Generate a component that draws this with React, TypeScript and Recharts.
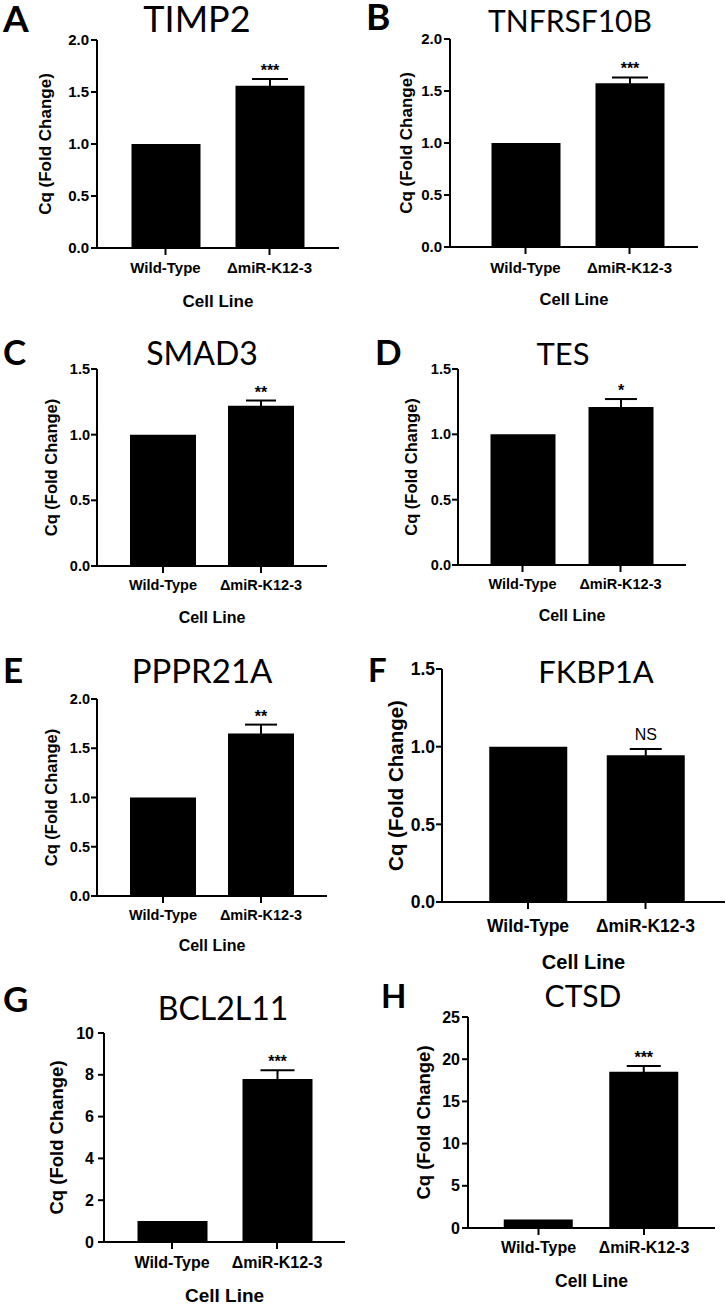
import { BarChart, Bar, XAxis, YAxis, ErrorBar, LabelList } from "recharts";

const cellLines = ["Wild-Type", "\u0394miR-K12-3"];
const panelLetters = ["A", "B", "C", "D", "E", "F", "G", "H"];
const genes = ["TIMP2", "TNFRSF10B", "SMAD3", "TES", "PPPR21A", "FKBP1A", "BCL2L11", "CTSD"];
const foldChange = [
  [1, 1.56],
  [1, 1.575],
  [1, 1.22],
  [1, 1.21],
  [1, 1.65],
  [1, 0.945],
  [1, 7.8],
  [1, 18.5],
];
const sem = [
  [0, 0.065],
  [0, 0.055],
  [0, 0.04],
  [0, 0.06],
  [0, 0.09],
  [0, 0.04],
  [0, 0.42],
  [0, 0.7],
];
const significance = ["***", "***", "**", "*", "**", "NS", "***", "***"];
const yTicks = [
  [0, 0.5, 1, 1.5, 2],
  [0, 0.5, 1, 1.5, 2],
  [0, 0.5, 1, 1.5],
  [0, 0.5, 1, 1.5],
  [0, 0.5, 1, 1.5, 2],
  [0, 0.5, 1, 1.5],
  [0, 2, 4, 6, 8, 10],
  [0, 5, 10, 15, 20, 25],
];
const yDecimals = [1, 1, 1, 1, 1, 1, 0, 0];
const yLabel = "Cq (Fold Change)";
const xLabel = "Cell Line";

const ARIAL = "'Liberation Sans', Arial, sans-serif";
const CALIBRI = "Lato, 'Open Sans', sans-serif";

const layouts = [
  { x0: 0, axisX: 97, right: 339, top: 40, bottom: 248, padL: 16.5, padR: 17.5, barW: 69, cap: 18, tickFs: 15, yGap: 2, xGap: 7, yLabFs: 17, yLabX: 47, xTitFs: 17, xTitY: 307, titFs: 36, titX: 197, titY: 32, letFs: 37, letX: 3, letY: 32 },
  { x0: 363, axisX: 450, right: 698, top: 39, bottom: 247, padL: 23.5, padR: 16.5, barW: 69, cap: 18, tickFs: 15, yGap: 2, xGap: 8, yLabFs: 17, yLabX: 408, xTitFs: 16.5, xTitY: 305, titFs: 30, titX: 570, titY: 32, letFs: 37, letX: 366, letY: 30 },
  { x0: 0, axisX: 97, right: 327, top: 369, bottom: 566, padL: 17, padR: 17, barW: 66, cap: 15, tickFs: 14.5, yGap: 1, xGap: 7, yLabFs: 16.5, yLabX: 53, xTitFs: 16, xTitY: 623, titFs: 32, titX: 202, titY: 365, letFs: 35, letX: 3, letY: 365 },
  { x0: 363, axisX: 458, right: 686, top: 369, bottom: 565, padL: 15.5, padR: 16.5, barW: 65, cap: 16, tickFs: 14.5, yGap: 1, xGap: 7, yLabFs: 16.5, yLabX: 413, xTitFs: 16, xTitY: 621, titFs: 31, titX: 563, titY: 365, letFs: 35, letX: 375, letY: 365 },
  { x0: 0, axisX: 97, right: 327, top: 699, bottom: 896, padL: 17, padR: 17, barW: 66, cap: 16, tickFs: 14.5, yGap: 1, xGap: 7, yLabFs: 16.5, yLabX: 53, xTitFs: 16, xTitY: 951, titFs: 33, titX: 202, titY: 683, letFs: 35, letX: 3, letY: 683 },
  { x0: 363, axisX: 442, right: 725, top: 669, bottom: 902, padL: 27.25, padR: 20.75, barW: 78, cap: 16, tickFs: 17.5, yGap: 1, xGap: 11, yLabFs: 20.5, yLabX: 398, xTitFs: 20, xTitY: 969, titFs: 31, titX: 596, titY: 683, letFs: 33, letX: 368, letY: 682 },
  { x0: 0, axisX: 104, right: 345, top: 1033, bottom: 1242, padL: 15.5, padR: 15.5, barW: 70, cap: 17, tickFs: 16, yGap: 4, xGap: 8, yLabFs: 18.5, yLabX: 58, xTitFs: 19, xTitY: 1302, titFs: 32, titX: 223, titY: 1020, letFs: 35, letX: 3, letY: 1012 },
  { x0: 363, axisX: 468, right: 715, top: 1017, bottom: 1228, padL: 17.75, padR: 18.25, barW: 69, cap: 17, tickFs: 16, yGap: 2, xGap: 7, yLabFs: 18.5, yLabX: 425, xTitFs: 17.5, xTitY: 1287, titFs: 30, titX: 583, titY: 1007, letFs: 33, letX: 381, letY: 1008 },
];

const starLabel = (p: number) => (props: any) => {
  const { index, value } = props;
  if (index !== 1) return null;
  const vb = props.viewBox || {};
  const x = Number(props.x ?? vb.x);
  const y = Number(props.y ?? vb.y);
  const width = Number(props.width ?? vb.width);
  const height = Number(props.height ?? vb.height);
  const v = Number(value);
  const errPx = v ? (sem[p][index] * Math.abs(height)) / v : 0;
  const ns = significance[p] === "NS";
  return (
    <text
      x={x + width / 2}
      y={Math.min(y, y + height) - errPx - (ns ? 9 : 3)}
      textAnchor="middle"
      fontSize={16}
      fontWeight={ns ? 400 : 700}
      fontFamily={ARIAL}
      fill="#000"
    >
      {significance[p]}
    </text>
  );
};

function Panel({ p }: { p: number }) {
  const L = layouts[p];
  const chartTop = L.top - 10;
  const width = 363;
  const xAxisH = 44;
  const height = L.bottom - chartTop + xAxisH;
  const rows = cellLines.map((line, i) => ({
    line,
    value: foldChange[p][i],
    err: sem[p][i],
  }));
  const ticks = yTicks[p];
  const axisStyle = { stroke: "#000", strokeWidth: 2 };
  return (
    <div style={{ position: "absolute", left: L.x0, top: chartTop }}>
      <BarChart
        width={width}
        height={height}
        data={rows}
        margin={{ top: 10, right: width - (L.right - L.x0), bottom: 0, left: 0 }}
      >
        <XAxis
          dataKey="line"
          height={xAxisH}
          interval={0}
          padding={{ left: L.padL, right: L.padR }}
          tickSize={7}
          tickMargin={L.xGap}
          axisLine={axisStyle}
          tickLine={axisStyle}
          tick={{ fill: "#000", fontSize: L.tickFs, fontWeight: 700, fontFamily: ARIAL }}
        />
        <YAxis
          type="number"
          width={L.axisX - L.x0}
          domain={[0, ticks[ticks.length - 1]]}
          ticks={ticks}
          interval={0}
          tickSize={6}
          tickMargin={L.yGap}
          axisLine={axisStyle}
          tickLine={axisStyle}
          tickFormatter={(v: number) => v.toFixed(yDecimals[p])}
          tick={{ fill: "#000", fontSize: L.tickFs, fontWeight: 700, fontFamily: ARIAL }}
        />
        <Bar dataKey="value" fill="#000" barSize={L.barW} isAnimationActive={false}>
          <ErrorBar
            dataKey="err"
            direction="y"
            width={L.cap}
            stroke="#000"
            strokeWidth={2}
            isAnimationActive={false}
          />
          <LabelList dataKey="value" content={starLabel(p)} />
        </Bar>
      </BarChart>
    </div>
  );
}

function Texts() {
  return (
    <svg
      width={726}
      height={1304}
      style={{ position: "absolute", left: 0, top: 0, pointerEvents: "none" }}
    >
      {layouts.map((L, p) => {
        const midY = (L.top + L.bottom) / 2;
        const bx = L.yLabX + 0.26 * L.yLabFs;
        return (
          <g key={p}>
            <text x={L.letX} y={L.letY} fontSize={L.letFs} fontWeight={700} fontFamily={CALIBRI} fill="#000">
              {panelLetters[p]}
            </text>
            <text x={L.titX} y={L.titY} fontSize={L.titFs} fontFamily={CALIBRI} textAnchor="middle" fill="#000">
              {genes[p]}
            </text>
            <text
              x={bx}
              y={midY}
              transform={`rotate(-90 ${bx} ${midY})`}
              fontSize={L.yLabFs}
              fontWeight={700}
              fontFamily={ARIAL}
              textAnchor="middle"
              fill="#000"
            >
              {yLabel}
            </text>
            <text
              x={(L.axisX + L.right) / 2}
              y={L.xTitY}
              fontSize={L.xTitFs}
              fontWeight={700}
              fontFamily={ARIAL}
              textAnchor="middle"
              fill="#000"
            >
              {xLabel}
            </text>
          </g>
        );
      })}
    </svg>
  );
}

export default function App() {
  return (
    <div style={{ position: "absolute", left: 0, top: 0, width: 726, height: 1304, background: "#fff" }}>
      <Texts />
      {layouts.map((_, p) => (
        <Panel key={p} p={p} />
      ))}
    </div>
  );
}
